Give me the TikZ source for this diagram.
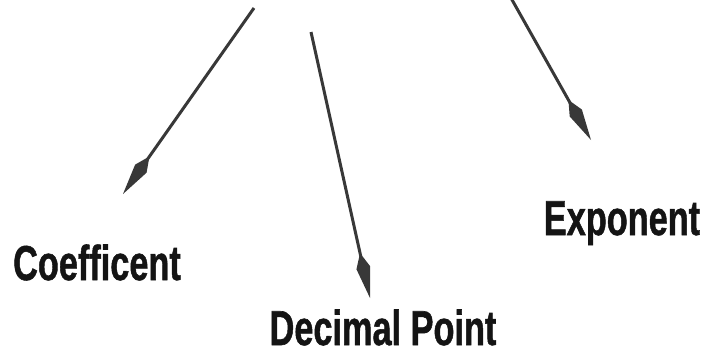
\documentclass[tikz,border=0pt]{standalone}
\usepackage{fontspec}
\setmainfont{Liberation Sans}
\newfontfamily\labelfont{Liberation Sans Bold}[FakeBold=1.2,Ligatures=NoCommon]
\usetikzlibrary{arrows.meta}
\definecolor{arrowgray}{HTML}{383838}
\definecolor{labelblack}{HTML}{141414}
\begin{document}
\begin{tikzpicture}[x=1pt,y=-1pt,
  label/.style={anchor=base,inner sep=0pt,text=labelblack,font=\labelfont\fontsize{49}{50}\selectfont,xscale=0.7},
  pointer/.style={draw=arrowgray,line width=3pt,-{Kite[length=46pt,width=14pt,inset=15pt]}}]
\useasboundingbox (0,0) rectangle (711,361);
\node[label] (coef) at (97,280) {Coefficent};
\node[label] (dec) at (383,345) {Decimal Point};
\node[label] (expo) at (622,235) {Exponent};
\coordinate (s1) at (254,8);
\coordinate (t1) at (123,194);
\coordinate (s2) at (311,32);
\coordinate (t2) at (370,298);
\coordinate (s3) at (511,-2);
\coordinate (t3) at (591,140);
\draw[pointer] (s1) -- (t1);
\draw[pointer] (s2) -- (t2);
\draw[pointer] (s3) -- (t3);
\end{tikzpicture}
\end{document}
